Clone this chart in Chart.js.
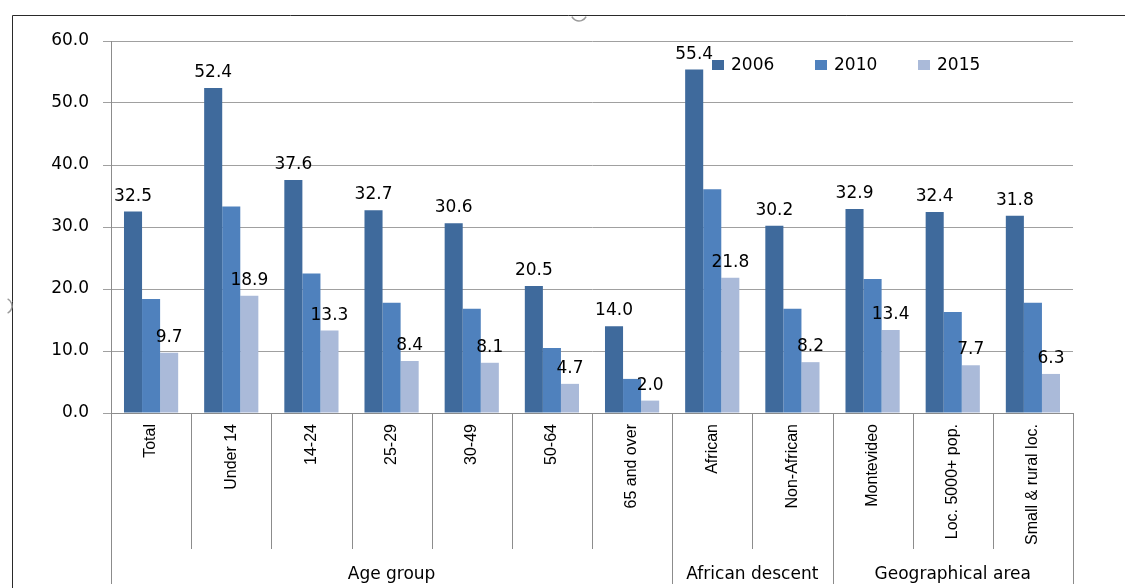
<!DOCTYPE html>
<html><head><meta charset="utf-8">
<script src="https://cdn.jsdelivr.net/npm/chart.js@4.4.1/dist/chart.umd.min.js"></script>
<style>html,body{margin:0;padding:0;background:#fff;overflow:hidden;} canvas{display:block;}</style>
</head><body>
<canvas id="c" width="1125" height="588" style="width:1125px;height:588px"></canvas>
<script>
const categories = ['Total','Under 14','14-24','25-29','30-49','50-64','65 and over','African','Non-African','Montevideo','Loc. 5000+ pop.','Small & rural loc.'];
const seriesNames = ['2006','2010','2015'];
const values2006 = [32.5,52.4,37.6,32.7,30.6,20.5,14.0,55.4,30.2,32.9,32.4,31.8];
const values2010 = [18.4,33.3,22.5,17.8,16.8,10.5,5.5,36.1,16.8,21.6,16.3,17.8];
const values2015 = [9.7,18.9,13.3,8.4,8.1,4.7,2.0,21.8,8.2,13.4,7.7,6.3];
const groupLabels = ['Age group','African descent','Geographical area'];
const groupSizes = [7,2,3];
const yMin = 0, yMax = 60, yStep = 10;
const labeledSeries = [0,2];

const colors = ['#3F6A9C','#4F81BD','#AABAD9'];
const gridColor = '#A0A0A0';
const axisColor = '#8C8C8C';
const FONT = 'DejaVu Sans';

const framePlugin = {
  id:'frame',
  beforeDraw(chart){
    const ctx = chart.ctx;
    ctx.save();
    ctx.fillStyle = '#fff';
    ctx.fillRect(0,0,chart.width,chart.height);
    ctx.strokeStyle = '#2a2a2a';
    ctx.lineWidth = 1;
    ctx.beginPath();
    ctx.moveTo(12.5,588); ctx.lineTo(12.5,15.5); ctx.lineTo(1125,15.5);
    ctx.stroke();
    ctx.strokeStyle = '#9a9a9a';
    ctx.lineWidth = 1.5;
    ctx.beginPath();
    ctx.arc(579,13,8,0.15*Math.PI,0.85*Math.PI);
    ctx.stroke();
    ctx.beginPath();
    ctx.arc(4,306,8,-0.35*Math.PI,0.35*Math.PI);
    ctx.stroke();
    ctx.restore();
  }
};

const extrasPlugin = {
  id:'extras',
  afterDatasetsDraw(chart){
    const ctx = chart.ctx;
    ctx.save();
    ctx.font = '17px "' + FONT + '"';
    ctx.fillStyle = '#000';
    ctx.textAlign = 'center';
    ctx.textBaseline = 'alphabetic';
    labeledSeries.forEach(di => {
      const meta = chart.getDatasetMeta(di);
      meta.data.forEach((bar,i) => {
        const v = chart.data.datasets[di].data[i];
        ctx.fillText(v.toFixed(1), bar.x, bar.y - 11);
      });
    });
    ctx.restore();
  },
  afterDraw(chart){
    const ctx = chart.ctx;
    const xs = chart.scales.x;
    const area = chart.chartArea;
    const half = (xs.getPixelForValue(1) - xs.getPixelForValue(0))/2;
    const boundary = i => xs.getPixelForValue(0) - half + i*2*half;
    ctx.save();
    ctx.strokeStyle = axisColor;
    ctx.lineWidth = 1;
    const gb = [0];
    groupSizes.reduce((a,s)=>{gb.push(a+s); return a+s;},0);
    for(let i=0;i<=categories.length;i++){
      const x = Math.round(boundary(i)) + 0.5;
      const isGroup = gb.includes(i);
      ctx.beginPath();
      ctx.moveTo(x, area.bottom);
      ctx.lineTo(x, isGroup ? 584 : 549);
      ctx.stroke();
    }
    ctx.font = '17px "' + FONT + '"';
    ctx.fillStyle = '#000';
    ctx.textAlign = 'center';
    ctx.textBaseline = 'alphabetic';
    groupLabels.forEach((g,k)=>{
      const cx = (boundary(gb[k]) + boundary(gb[k+1]))/2;
      ctx.fillText(g, cx, 579);
    });
    const lx = [712, 815, 918];
    chart.data.datasets.forEach((ds,k)=>{
      ctx.fillStyle = ds.backgroundColor;
      ctx.fillRect(lx[k], 60, 12, 10);
      ctx.fillStyle = '#000';
      ctx.textAlign = 'left';
      ctx.textBaseline = 'middle';
      ctx.fillText(ds.label, lx[k] + 19, 66);
    });
    ctx.restore();
  }
};

new Chart(document.getElementById('c'), {
  type:'bar',
  data:{
    labels: categories,
    datasets:[
      {label: seriesNames[0], data: values2006, backgroundColor: colors[0]},
      {label: seriesNames[1], data: values2010, backgroundColor: colors[1]},
      {label: seriesNames[2], data: values2015, backgroundColor: colors[2]}
    ]
  },
  options:{
    responsive:false,
    animation:false,
    devicePixelRatio:1,
    datasets:{bar:{categoryPercentage:0.676, barPercentage:1.0, borderWidth:0}},
    layout:{padding:{left:0,right:52,top:41,bottom:0}},
    plugins:{legend:{display:false}, tooltip:{enabled:false}},
    scales:{
      x:{
        grid:{display:false, drawTicks:false},
        border:{display:true, color:axisColor},
        ticks:{autoSkip:false, minRotation:90, maxRotation:90, padding:11, color:'#000',
          font:{family:'Liberation Sans', size:16}},
        afterFit(s){ s.height = 175; }
      },
      y:{
        min:yMin, max:yMax,
        grid:{color:gridColor, tickLength:8, drawTicks:true, tickColor:gridColor},
        border:{display:true, color:axisColor},
        ticks:{stepSize:yStep, padding:14, color:'#000',
          font:{family:FONT, size:17},
          callback:v=>Number(v).toFixed(1)},
        afterFit(s){ s.width = 111; }
      }
    }
  },
  plugins:[framePlugin, extrasPlugin]
});
</script>
</body></html>
